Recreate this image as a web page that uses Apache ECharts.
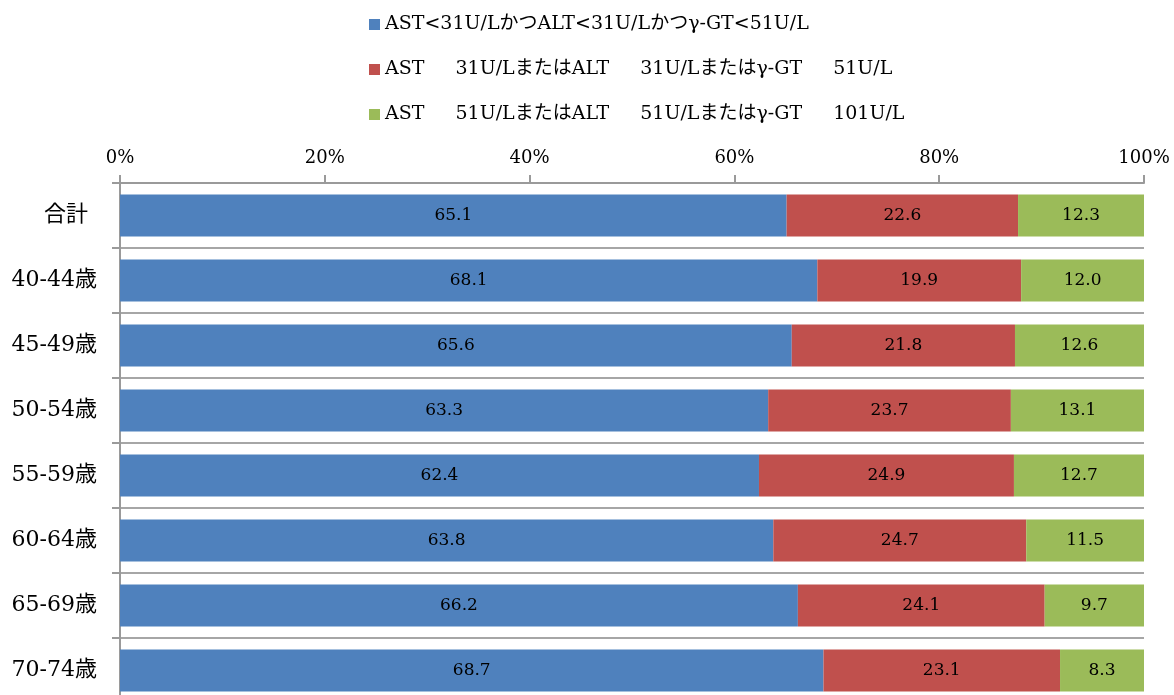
<!DOCTYPE html>
<html>
<head>
<meta charset="utf-8">
<script src="https://cdn.jsdelivr.net/npm/echarts@6/dist/echarts.min.js"></script>
<style>
  html, body { margin: 0; padding: 0; background: #fff; }
  #chart { width: 1174px; height: 695px; }
</style>
</head>
<body>
<div id="chart"></div>
<script>
// 年齢階級（上から順）
const categories = ['合計', '40-44歳', '45-49歳', '50-54歳', '55-59歳', '60-64歳', '65-69歳', '70-74歳']
const seriesNames = [
  'AST<31U/LかつALT<31U/Lかつγ-GT<51U/L',
  'AST\u3000  31U/LまたはALT\u3000  31U/Lまたはγ-GT\u3000  51U/L',
  'AST\u3000  51U/LまたはALT\u3000  51U/Lまたはγ-GT\u3000  101U/L'
]
const normalValues = [65.1, 68.1, 65.6, 63.3, 62.4, 63.8, 66.2, 68.7]
const mildValues = [22.6, 19.9, 21.8, 23.7, 24.9, 24.7, 24.1, 23.1]
const highValues = [12.3, 12.0, 12.6, 13.1, 12.7, 11.5, 9.7, 8.3]
const colors = ['#4F81BD', '#C0504D', '#9BBB59']

const serif = '"DejaVu Serif", "Noto Sans CJK JP", serif'
const gray = '#9a9a9a'

const chart = echarts.init(document.getElementById('chart'))

function makeSeries(name, data, color) {
  return {
    name: name,
    type: 'bar',
    stack: 'total',
    barWidth: 42,
    data: data,
    itemStyle: { color: color },
    label: {
      show: true,
      position: 'inside',
      color: '#000',
      fontFamily: serif,
      fontSize: 17,
      formatter: p => p.value.toFixed(1)
    },
    animation: false
  }
}

chart.setOption({
  legend: {
    orient: 'vertical',
    left: 364,
    top: 9,
    itemWidth: 11,
    itemHeight: 11,
    itemGap: 24,
    icon: 'rect',
    data: seriesNames,
    textStyle: {
      fontFamily: serif,
      fontSize: 19,
      lineHeight: 21,
      color: '#000'
    }
  },
  grid: {
    left: 120,
    top: 183,
    width: 1024,
    height: 520,
    outerBoundsMode: 'none'
  },
  xAxis: {
    type: 'value',
    position: 'top',
    min: 0,
    max: 100,
    interval: 20,
    axisLine: { show: true, lineStyle: { color: gray, width: 2 } },
    axisTick: { show: true, length: 8, lineStyle: { color: gray, width: 2 } },
    splitLine: { show: false },
    axisLabel: {
      formatter: '{value}%',
      color: '#000',
      fontFamily: serif,
      fontSize: 18,
      margin: 16
    }
  },
  yAxis: {
    type: 'category',
    inverse: true,
    data: categories,
    axisLine: { show: true, lineStyle: { color: gray, width: 2 } },
    axisTick: { show: true, length: 8, lineStyle: { color: gray, width: 2 } },
    splitLine: { show: true, lineStyle: { color: '#a6a6a6', width: 2 } },
    axisLabel: {
      color: '#000',
      fontFamily: serif,
      fontSize: 22,
      margin: 23,
      formatter: v => (v === '合計' ? '{t|' + v + '}' : v),
      rich: {
        t: { fontFamily: serif, fontSize: 22, color: '#000', padding: [0, 9, 0, 0] }
      }
    }
  },
  series: [
    makeSeries(seriesNames[0], normalValues, colors[0]),
    makeSeries(seriesNames[1], mildValues, colors[1]),
    makeSeries(seriesNames[2], highValues, colors[2])
  ]
})
</script>
</body>
</html>
